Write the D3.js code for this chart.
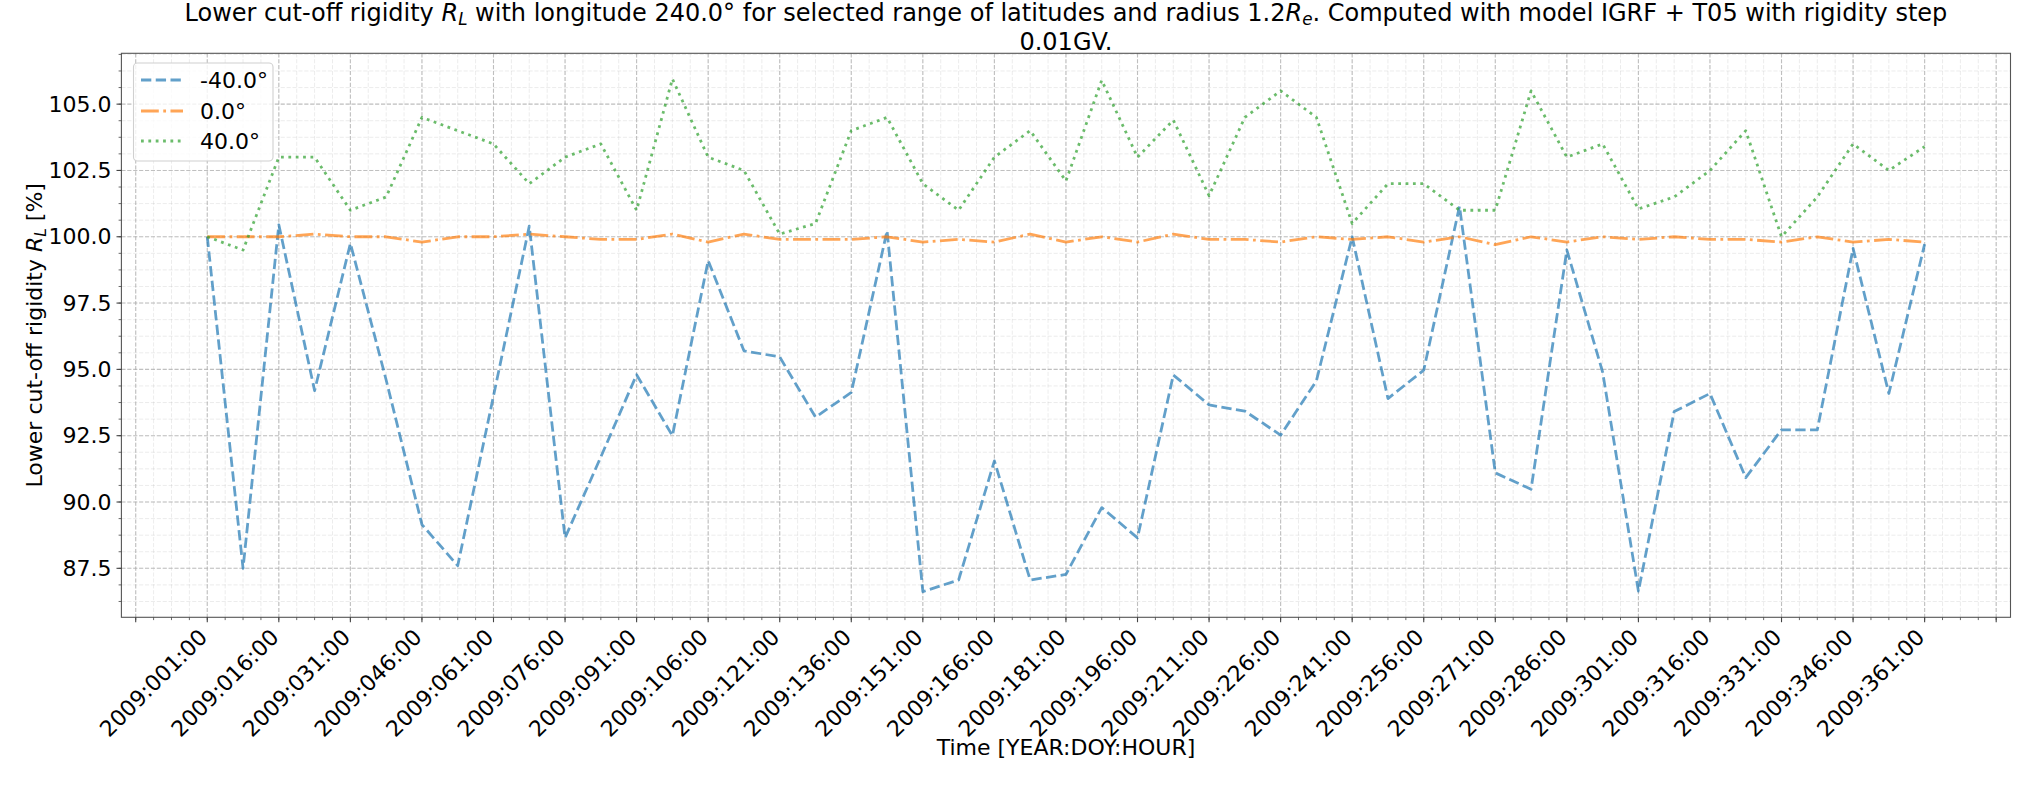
<!DOCTYPE html>
<html><head><meta charset="utf-8">
<script src="https://cdn.jsdelivr.net/npm/d3@7"></script>
<style>
body{margin:0;background:#fff}
text{font-family:"DejaVu Sans",sans-serif;fill:#000}
</style>
</head><body>
<svg id="chart" width="2035" height="785"></svg>
<script>
// ---------------- data ----------------
const timestamps = [
 "2009:001:00","2009:008:12","2009:016:00","2009:023:12","2009:031:00","2009:038:12","2009:046:00",
 "2009:053:12","2009:061:00","2009:068:12","2009:076:00","2009:083:12","2009:091:00","2009:098:12",
 "2009:106:00","2009:113:12","2009:121:00","2009:128:12","2009:136:00","2009:143:12","2009:151:00",
 "2009:158:12","2009:166:00","2009:173:12","2009:181:00","2009:188:12","2009:196:00","2009:203:12",
 "2009:211:00","2009:218:12","2009:226:00","2009:233:12","2009:241:00","2009:248:12","2009:256:00",
 "2009:263:12","2009:271:00","2009:278:12","2009:286:00","2009:293:12","2009:301:00","2009:308:12",
 "2009:316:00","2009:323:12","2009:331:00","2009:338:12","2009:346:00","2009:353:12","2009:361:00"
];
const seriesNames = ["-40.0°", "0.0°", "40.0°"];
const latMinus40 = [
 100.0, 87.5, 100.45, 94.2, 99.75, 94.6, 89.15, 87.6, 94.0, 100.4, 88.65, 91.7, 94.8, 92.5,
 99.1, 95.7, 95.47, 93.2, 94.13, 100.23, 86.62, 87.06, 91.55, 87.06, 87.27, 89.79, 88.65,
 94.79, 93.66, 93.43, 92.52, 94.57, 100.0, 93.9, 94.97, 101.15, 91.1, 90.48, 99.5, 94.9,
 86.64, 93.41, 94.09, 90.92, 92.72, 92.72, 99.56, 94.09, 99.72
];
const lat0 = [
 100.0, 100.0, 100.0, 100.1, 100.0, 100.0, 99.8, 100.0, 100.0, 100.1, 100.0, 99.9, 99.9, 100.1,
 99.8, 100.1, 99.9, 99.9, 99.9, 100.0, 99.8, 99.9, 99.8, 100.1, 99.8, 100.0, 99.8,
 100.1, 99.9, 99.9, 99.8, 100.0, 99.9, 100.0, 99.8, 100.0, 99.7, 100.0, 99.8, 100.0,
 99.9, 100.0, 99.9, 99.9, 99.8, 100.0, 99.8, 99.9, 99.8
];
const lat40 = [
 100.0, 99.5, 103.0, 103.0, 101.0, 101.5, 104.5, 104.0, 103.5, 102.0, 103.0, 103.5, 101.0, 105.95,
 103.0, 102.5, 100.1, 100.5, 104.0, 104.5, 102.0, 101.0, 103.0, 104.0, 102.1, 105.9, 103.0,
 104.4, 101.55, 104.5, 105.5, 104.5, 100.5, 102.0, 102.0, 101.0, 101.0, 105.5, 103.0, 103.5,
 101.05, 101.5, 102.5, 104.0, 100.0, 101.5, 103.5, 102.5, 103.4
];
const xTickLabels = [
 "2009:001:00","2009:016:00","2009:031:00","2009:046:00","2009:061:00","2009:076:00","2009:091:00",
 "2009:106:00","2009:121:00","2009:136:00","2009:151:00","2009:166:00","2009:181:00","2009:196:00",
 "2009:211:00","2009:226:00","2009:241:00","2009:256:00","2009:271:00","2009:286:00","2009:301:00",
 "2009:316:00","2009:331:00","2009:346:00","2009:361:00"
];
const yTickLabels = ["87.5","90.0","92.5","95.0","97.5","100.0","102.5","105.0"];

// ---------------- layout ----------------
const L = 121.4, R = 2010.5, T = 53.3, B = 617.3;
const FS = 22, FS_TITLE = 24, FS_LEG = 22;
const colors = ["#1f77b4", "#ff7f0e", "#2ca02c"];
const dashes = ["10.3 4.45", "17.8 4.45 2.78 4.45", "2.78 4.58"];
const LW = 2.78;

const parseT = s => { const p = s.split(":"); return +p[1] + (+p[2]) / 24; };
const tVals = timestamps.map(parseT);
const series = [latMinus40, lat0, lat40].map((vals, k) => ({
  name: seriesNames[k], color: colors[k], dash: dashes[k],
  pts: vals.map((v, i) => ({ t: tVals[i], v }))
}));

const tMin = d3.min(tVals), tMax = d3.max(tVals);
const tPad = (tMax - tMin) * 0.05;
const allV = [].concat(latMinus40, lat0, lat40);
const vMin = d3.min(allV), vMax = d3.max(allV);
const vPad = (vMax - vMin) * 0.05;

const x = d3.scaleLinear().domain([tMin - tPad, tMax + tPad]).range([L, R]);
const y = d3.scaleLinear().domain([vMin - vPad, vMax + vPad]).range([B, T]);

const svg = d3.select("#chart");
svg.append("rect").attr("width", 2035).attr("height", 785).attr("fill", "#fff");

// ticks
const xLabDays = xTickLabels.map(parseT);
const xStep = xLabDays[1] - xLabDays[0];
const [xd0, xd1] = x.domain();
const xMajor = [];
for (let d = xLabDays[0]; d >= xd0; d -= xStep) xMajor.unshift(d);
for (let d = xLabDays[0] + xStep; d <= xd1; d += xStep) xMajor.push(d);
const xMinor = [];
const xmStep = xStep / 4;
for (let d = xLabDays[0]; d >= xd0; d -= xmStep) xMinor.push(d);
for (let d = xLabDays[0] + xmStep; d <= xd1; d += xmStep) xMinor.push(d);

const yMajor = yTickLabels.map(Number);
const yStep = yMajor[1] - yMajor[0];
const ymStep = yStep / 4;
const [yd0, yd1] = y.domain();
const yMinor = [];
for (let v = yMajor[0]; v >= yd0; v -= ymStep) yMinor.push(v);
for (let v = yMajor[0] + ymStep; v <= yd1; v += ymStep) yMinor.push(v);

// grid
const g = svg.append("g");
g.selectAll(".gxm").data(xMinor).join("line")
  .attr("x1", d => x(d)).attr("x2", d => x(d)).attr("y1", T).attr("y2", B)
  .attr("stroke", "#b0b0b0").attr("stroke-opacity", 0.3).attr("stroke-width", 0.8).attr("stroke-dasharray", "4.1 1.8");
g.selectAll(".gym").data(yMinor).join("line")
  .attr("x1", L).attr("x2", R).attr("y1", d => y(d)).attr("y2", d => y(d))
  .attr("stroke", "#b0b0b0").attr("stroke-opacity", 0.3).attr("stroke-width", 0.8).attr("stroke-dasharray", "4.1 1.8");
g.selectAll(".gx").data(xMajor).join("line")
  .attr("x1", d => x(d)).attr("x2", d => x(d)).attr("y1", T).attr("y2", B)
  .attr("stroke", "#b0b0b0").attr("stroke-opacity", 0.75).attr("stroke-width", 1.1).attr("stroke-dasharray", "4.1 1.8");
g.selectAll(".gy").data(yMajor).join("line")
  .attr("x1", L).attr("x2", R).attr("y1", d => y(d)).attr("y2", d => y(d))
  .attr("stroke", "#b0b0b0").attr("stroke-opacity", 0.75).attr("stroke-width", 1.1).attr("stroke-dasharray", "4.1 1.8");

// lines
const line = d3.line().x(d => x(d.t)).y(d => y(d.v));
svg.append("clipPath").attr("id", "clp").append("rect")
  .attr("x", L).attr("y", T).attr("width", R - L).attr("height", B - T);
const lg = svg.append("g").attr("clip-path", "url(#clp)");
series.forEach(s => {
  lg.append("path").attr("d", line(s.pts)).attr("fill", "none")
    .attr("stroke", s.color).attr("stroke-opacity", 0.7).attr("stroke-width", LW)
    .attr("stroke-dasharray", s.dash).attr("stroke-linejoin", "round").attr("stroke-linecap", "butt");
});

// spines
svg.append("rect").attr("x", L).attr("y", T).attr("width", R - L).attr("height", B - T)
  .attr("fill", "none").attr("stroke", "#555").attr("stroke-width", 1.1);

// tick marks
const tk = svg.append("g").attr("stroke", "#444");
tk.selectAll(".tx").data(xMajor).join("line")
  .attr("x1", d => x(d)).attr("x2", d => x(d)).attr("y1", B).attr("y2", B + 4.9).attr("stroke-width", 1.1);
tk.selectAll(".txm").data(xMinor).join("line")
  .attr("x1", d => x(d)).attr("x2", d => x(d)).attr("y1", B).attr("y2", B + 2.8).attr("stroke-width", 0.8);
tk.selectAll(".ty").data(yMajor).join("line")
  .attr("x1", L - 4.9).attr("x2", L).attr("y1", d => y(d)).attr("y2", d => y(d)).attr("stroke-width", 1.1);
tk.selectAll(".tym").data(yMinor).join("line")
  .attr("x1", L - 2.8).attr("x2", L).attr("y1", d => y(d)).attr("y2", d => y(d)).attr("stroke-width", 0.8);

// tick labels
svg.selectAll(".ylab").data(yTickLabels).join("text")
  .attr("x", L - 10).attr("y", d => y(+d)).attr("text-anchor", "end")
  .attr("dominant-baseline", "central").attr("font-size", FS).text(d => d);
svg.selectAll(".xlab").data(xTickLabels).join("text")
  .attr("transform", d => `translate(${x(parseT(d)) - 4},${B + 16}) rotate(-45)`)
  .attr("text-anchor", "end").attr("dominant-baseline", "central")
  .attr("font-size", FS).text(d => d);

// axis labels
svg.append("text").attr("x", (L + R) / 2).attr("y", 755).attr("text-anchor", "middle")
  .attr("font-size", FS).text("Time [YEAR:DOY:HOUR]");
const yl = svg.append("text").attr("transform", `translate(42,${(T + B) / 2}) rotate(-90)`)
  .attr("text-anchor", "middle").attr("font-size", FS);
yl.append("tspan").text("Lower cut-off rigidity ");
yl.append("tspan").attr("font-style", "italic").text("R");
yl.append("tspan").attr("font-style", "italic").attr("font-size", FS * 0.7).attr("dy", 4).text("L");
yl.append("tspan").attr("dy", -4).text(" [%]");

// title
const tt = svg.append("text").attr("x", (L + R) / 2).attr("y", 21).attr("text-anchor", "middle").attr("font-size", FS_TITLE);
tt.append("tspan").text("Lower cut-off rigidity ");
tt.append("tspan").attr("font-style", "italic").text("R");
tt.append("tspan").attr("font-style", "italic").attr("font-size", FS_TITLE * 0.7).attr("dy", 4).text("L");
tt.append("tspan").attr("dy", -4).text(" with longitude 240.0° for selected range of latitudes and radius 1.2");
tt.append("tspan").attr("font-style", "italic").text("R");
tt.append("tspan").attr("font-style", "italic").attr("font-size", FS_TITLE * 0.7).attr("dy", 4).text("e");
tt.append("tspan").attr("dy", -4).text(". Computed with model IGRF + T05 with rigidity step");
svg.append("text").attr("x", (L + R) / 2).attr("y", 49.5).attr("text-anchor", "middle")
  .attr("font-size", FS_TITLE).text("0.01GV.");

// legend
const leg = svg.append("g");
leg.append("rect").attr("x", 133.5).attr("y", 63).attr("width", 139.5).attr("height", 98)
  .attr("rx", 4).attr("fill", "#fff").attr("fill-opacity", 0.8).attr("stroke", "#d0d0d0").attr("stroke-width", 1.1);
const legY = [80, 111, 141];
series.forEach((s, k) => {
  leg.append("line").attr("x1", 141).attr("x2", 183).attr("y1", legY[k]).attr("y2", legY[k])
    .attr("stroke", s.color).attr("stroke-opacity", 0.7).attr("stroke-width", LW).attr("stroke-dasharray", s.dash);
  leg.append("text").attr("x", 200).attr("y", legY[k]).attr("dominant-baseline", "central")
    .attr("font-size", FS_LEG).text(s.name);
});
</script>
</body></html>
